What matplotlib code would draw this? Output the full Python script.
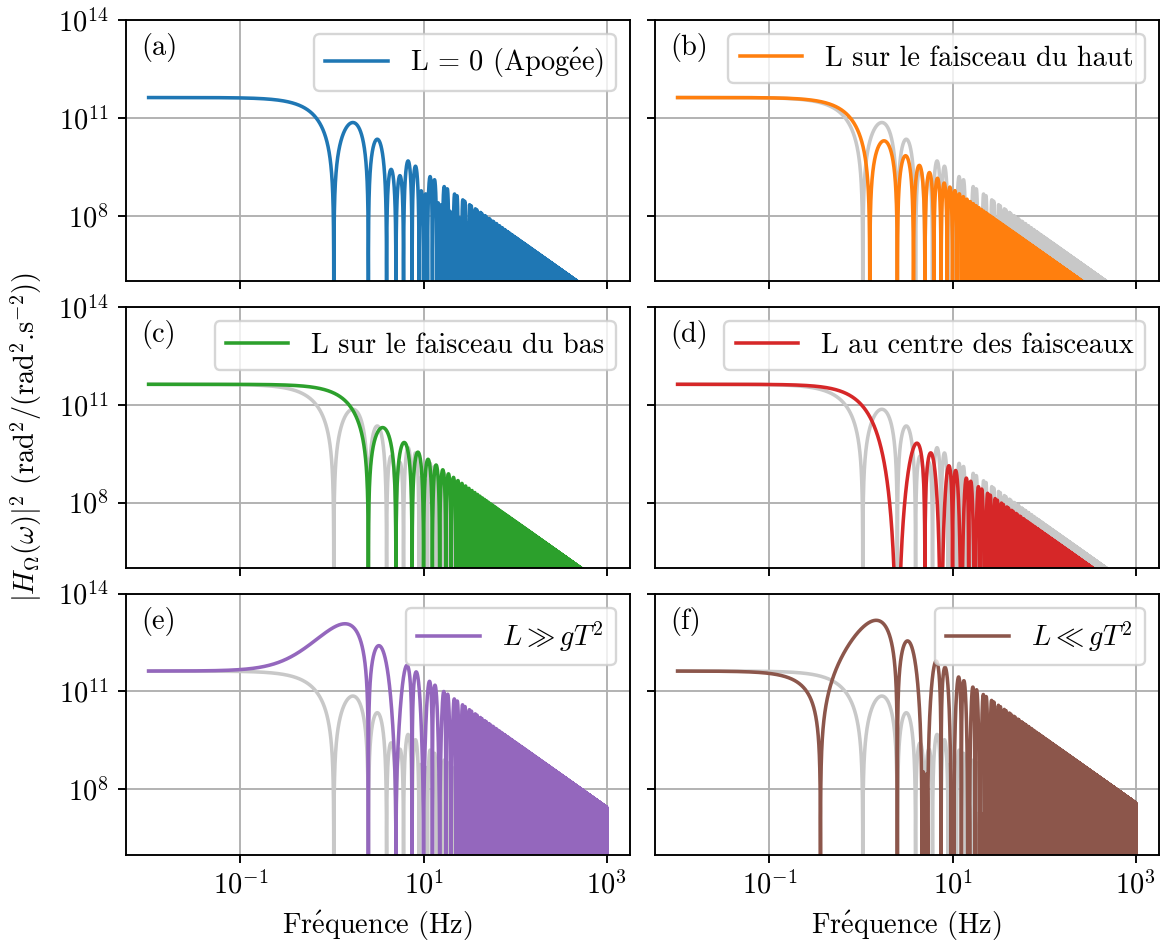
# NOTE: the curves oscillate thousands of times and cannot be read off point
# by point, so they are evaluated from the 4-pulse interferometer rotation
# transfer function. Its parameters below (T, plateau level, axis positions)
# were estimated from the picture (zero positions, plateau, peak heights).
import numpy as np
import matplotlib
matplotlib.use("Agg")
import matplotlib.pyplot as plt
from matplotlib.ticker import FuncFormatter, NullLocator

plt.rcParams["font.family"] = ["cmr10", "DejaVu Serif"]
plt.rcParams["mathtext.fontset"] = "cm"
plt.rcParams["axes.formatter.use_mathtext"] = True
plt.rcParams["font.size"] = 12

# interferometer parameters
g = 9.81
T = 0.4                      # s  (zeros every 2.5 Hz)
dc_level = 4.2e11            # low-frequency plateau of |H|^2
f_min, f_max = 1e-2, 1e3     # Hz
pulse_times = [-1.0, -0.5, 0.5, 1.0]   # units of T, relative to apogee
pulse_weights = [1, -2, 2, -1]

# rotation axis position L below apogee (m), one per panel
L_values = [0.0, g * T**2 / 8, g * T**2 / 2, 5 * g * T**2 / 16, 5.0, -5.0]
labels = ["L = 0 (Apog$\\mathrm{\\'e}$e)", "L sur le faisceau du haut",
          "L sur le faisceau du bas", "L au centre des faisceaux",
          r"$L \gg gT^2$", r"$L \ll gT^2$"]
tags = ["(a)", "(b)", "(c)", "(d)", "(e)", "(f)"]
colors = ["C0", "C1", "C2", "C3", "C4", "C5"]

freq = np.logspace(np.log10(f_min), np.log10(f_max), 300000)


def response(f, L):
    w = 2 * np.pi * np.atleast_1d(f)
    t = np.array(pulse_times) * T
    s = np.array(pulse_weights)
    h = L - 0.5 * g * t**2
    H = (s * h * np.exp(1j * np.outer(w, t))).sum(axis=1) / (1j * w)
    return np.abs(H) ** 2


scale = dc_level / response(1e-5, 0.0)[0]
ref = response(freq, 0.0) * scale

fig, axes = plt.subplots(3, 2, sharex=True, sharey=True,
                         figsize=(1163 / 170, 943 / 170), dpi=170)
fig.subplots_adjust(left=0.1081, right=0.9963, top=0.9788, bottom=0.0938,
                    wspace=0.0496, hspace=0.0985)

for i, ax in enumerate(axes.flat):
    if i > 0:
        ax.plot(freq, ref, color="#c8c8c8")
    ax.plot(freq, response(freq, L_values[i]) * scale, color=colors[i],
            label=labels[i])
    ax.set_xscale("log")
    ax.set_yscale("log")
    ax.grid(True)
    ax.legend(loc="upper right", handlelength=2.2)
    ax.text(0.03, 0.95, tags[i], transform=ax.transAxes, va="top", ha="left")

ax = axes[0, 0]
ax.set_xlim(10 ** -2.25, 10 ** 3.25)
ax.set_ylim(1e6, 1e14)
ax.set_xticks([1e-1, 1e1, 1e3])
ax.set_yticks([1e8, 1e11, 1e14])
for a in axes.flat:
    a.xaxis.set_minor_locator(NullLocator())
    a.yaxis.set_minor_locator(NullLocator())
fmt = FuncFormatter(lambda v, p: r"$10^{%d}$" % round(np.log10(v)))
ax.xaxis.set_major_formatter(fmt)
ax.yaxis.set_major_formatter(fmt)

for a in axes[-1]:
    a.set_xlabel("Fr$\\mathrm{\\'e}$quence (Hz)")

fig.text(0.022, 0.5366,
         r"$|H_\Omega(\omega)|^2$ (rad$^2$/(rad$^2$.s$^{-2}$))",
         rotation=90, va="center", ha="center")

fig.savefig("out.png", dpi=170)
